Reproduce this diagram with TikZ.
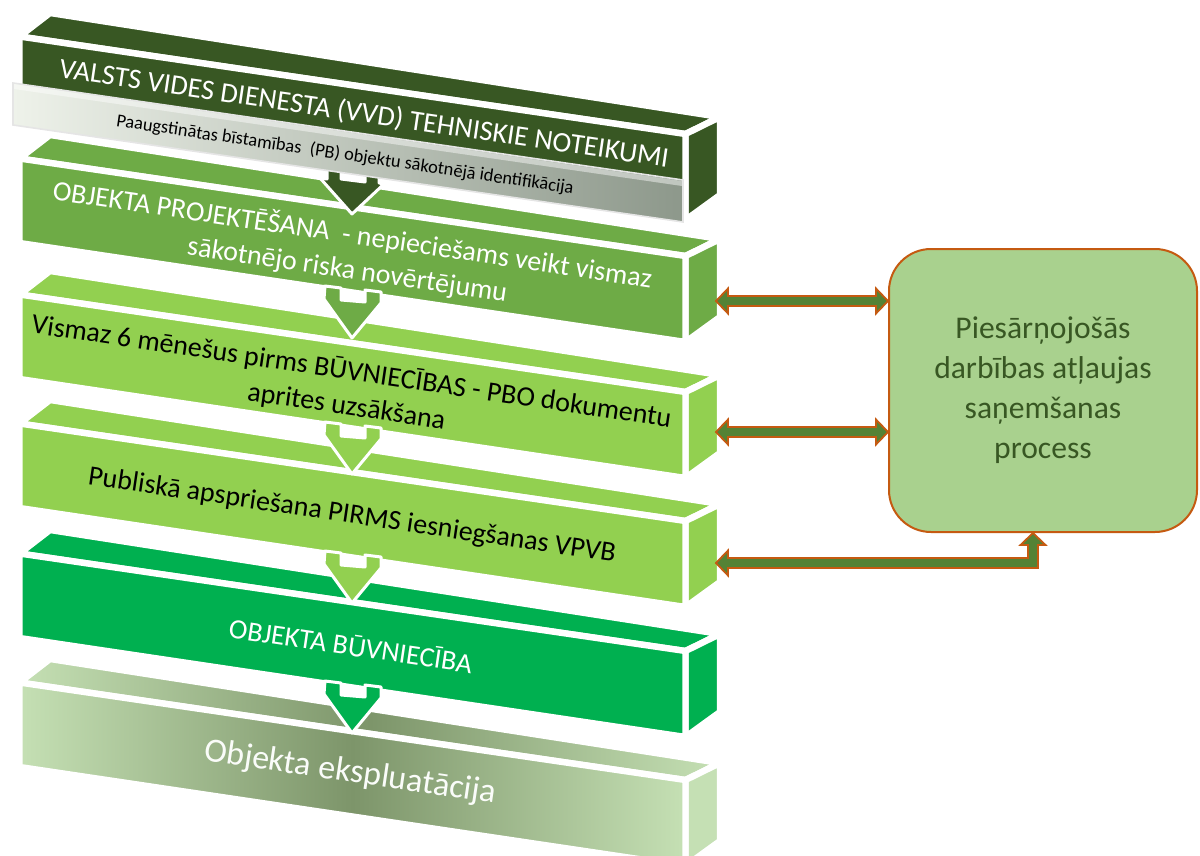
\documentclass[tikz,border=0pt]{standalone}
\usepackage{fontspec}
\setmainfont{Carlito}
\usetikzlibrary{calc}
\definecolor{cA}{HTML}{385723}
\definecolor{cB}{HTML}{6EAB46}
\definecolor{cC}{HTML}{92D050}
\definecolor{cD}{HTML}{00B050}
\definecolor{cEl}{HTML}{C5E0B4}
\definecolor{cEm}{HTML}{7D956A}
\definecolor{bandL}{HTML}{EEF2EA}
\definecolor{bandR}{HTML}{8D988B}
\definecolor{boxfill}{HTML}{A9D18E}
\definecolor{rust}{HTML}{C55A11}
\definecolor{agreen}{HTML}{548235}
\tikzset{
  face/.style={draw=white, line width=3.2pt, line join=round},
  flowarr/.style={draw=white, line width=1.5pt, line join=round},
  txt/.style={rotate=-8.4, align=center, inner sep=0pt},
  dbl/.style={fill=agreen, draw=rust, line width=0.9pt, line join=miter},
}
\newcommand\drawblock[3]{%
  \path[face,#2] (19.5,#1-3.5) -- (50,#1-27) -- (720,#1+77) -- (685.5,#1+94) -- cycle;
  \path[face,#3] (685.5,#1+94) -- (720,#1+77) -- (720,#1+155) -- (685.5,#1+180) -- cycle;
  \path[face,#2] (19.5,#1-3.5) -- (685.5,#1+94) -- (685.5,#1+180) -- (19.5,#1+81) -- cycle;
}
\newcommand\flowarrow[2]{%
  \path[flowarr,fill=#2] (325,#1+124) -- (341,#1+126) -- (341,#1+138) -- (365,#1+140)
    -- (365,#1+128) -- (381,#1+130) -- (381,#1+141) -- (352,#1+176) -- (324,#1+137) -- cycle;
}
\newcommand\dblarrow[2]{%
  \path[dbl] (#1) -- ($(#1)+(12,-12.5)$) -- ($(#1)+(12,-5)$) -- ($(#2)+(-12,-5)$)
    -- ($(#2)+(-12,-12.5)$) -- (#2) -- ($(#2)+(-12,12.5)$) -- ($(#2)+(-12,5)$)
    -- ($(#1)+(12,5)$) -- ($(#1)+(12,12.5)$) -- cycle;
}
\begin{document}
\begin{tikzpicture}[x=0.5pt,y=-0.5pt]
\useasboundingbox (0,0) rectangle (1200,856);
\clip (0,0) rectangle (1200,856);

% block 1
\drawblock{40}{fill=cA}{fill=cA}
\node[txt, text=white, font=\fontsize{14.2pt}{17pt}\selectfont] (t1) at (364,114)
  {VALSTS VIDES DIENESTA (VVD) TEHNISKIE NOTEIKUMI};

% block 2
\drawblock{162}{fill=cB}{fill=cB}
% dark arrow
\path[flowarr,fill=cA] (327,150) -- (341,150) -- (341,179) -- (365,182) -- (365,150)
  -- (379,150) -- (379,183) -- (384,184) -- (352,214) -- (320,178) -- (327,179) -- cycle;
% grey band
\path[left color=bandL, right color=bandR, draw=white!80!gray, line width=0.8pt]
  (13,83) -- (683,180) -- (683,222) -- (13,125) -- cycle;
\path[fill=white, opacity=0.45] (14,84) -- (682,181) -- (682,186) -- (14,89) -- cycle;
\node[txt, text=black, font=\fontsize{9.2pt}{11pt}\selectfont] (tpb) at (345,155)
  {Paaugstinātas bīstamības\ \ (PB) objektu sākotnējā identifikācija};
\node[txt, text=white, font=\fontsize{14pt}{17.5pt}\selectfont] (t2) at (350,252)
  {OBJEKTA PROJEKTĒŠANA\ \ - nepieciešams veikt vismaz\\sākotnējo riska novērtējumu};

% block 3
\drawblock{298}{fill=cC}{fill=cC}
\flowarrow{162}{cB}
\node[txt, text=black, font=\fontsize{14pt}{17.5pt}\selectfont] (t3) at (349,389)
  {Vismaz 6 mēnešus pirms BŪVNIECĪBAS - PBO dokumentu\\aprites uzsākšana};

% block 4
\drawblock{427}{fill=cC}{fill=cC}
\flowarrow{298}{cC}
\node[txt, text=black, font=\fontsize{14pt}{17pt}\selectfont] (t4) at (352,516)
  {Publiskā apspriešana PIRMS iesniegšanas VPVB};

% block 5
\drawblock{557}{fill=cD}{fill=cD}
\flowarrow{427}{cC}
\node[txt, text=white, font=\fontsize{14pt}{17pt}\selectfont] (t5) at (351,645)
  {OBJEKTA BŪVNIECĪBA};

% block 6
\drawblock{686}{left color=cEl, right color=cEl, middle color=cEm}{fill=cEl}
\flowarrow{557}{cD}
\node[txt, text=white!92!cEl, font=\fontsize{17pt}{20pt}\selectfont] (t6) at (350,773)
  {Objekta ekspluatācija};

% permit box
\node[draw=rust, fill=boxfill, line width=1pt, rounded corners=21pt,
  minimum width=154pt, minimum height=141.5pt, text=cA, align=center,
  font=\fontsize{15.8pt}{20pt}\selectfont] (permit) at (1043,390.5)
  {Piesārņojošās\\darbības atļaujas\\saņemšanas\\process};

\coordinate (s2) at (716,301);
\coordinate (s3) at (716,432);
\coordinate (s4) at (716,563);
\coordinate (p2) at (s2 -| permit.west);
\coordinate (p3) at (s3 -| permit.west);
\coordinate (k4) at (1033,563);
\coordinate (p4) at (k4 |- permit.south);
\dblarrow{s2}{p2}
\dblarrow{s3}{p3}
\path[dbl] (s4) -- ($(s4)+(12,-12.5)$) -- ($(s4)+(12,-5)$) -- ($(k4)+(-5,-5)$)
  -- ($(p4)+(-5,12)$) -- ($(p4)+(-12.5,12)$) -- (p4) -- ($(p4)+(12.5,12)$)
  -- ($(p4)+(5,12)$) -- ($(k4)+(5,5)$) -- ($(s4)+(12,5)$) -- ($(s4)+(12,12.5)$) -- cycle;
\end{tikzpicture}
\end{document}
